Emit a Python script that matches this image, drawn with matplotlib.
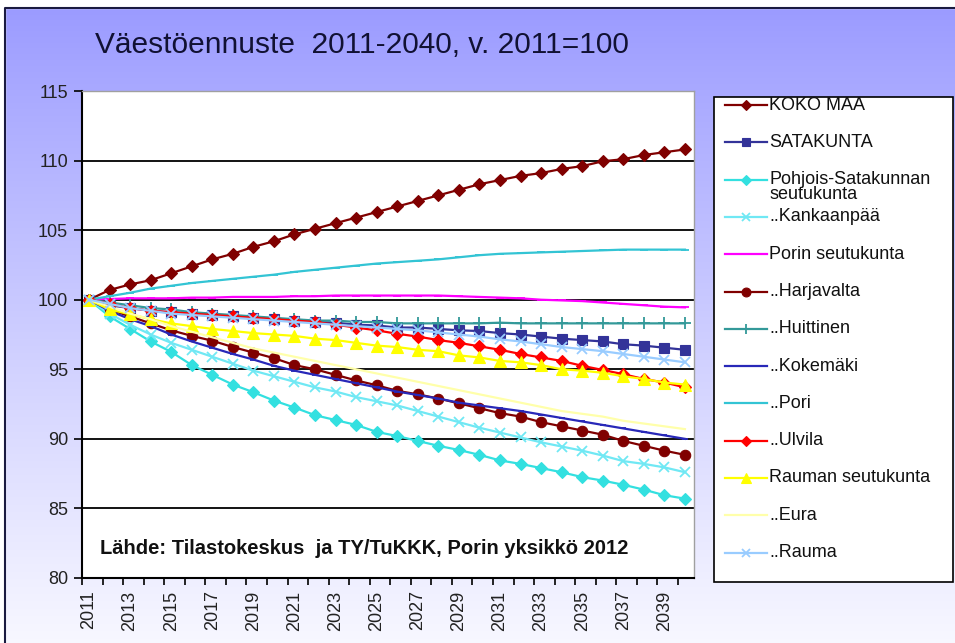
import matplotlib

matplotlib.use("Agg")

import matplotlib.pyplot as plt
import numpy as np
from matplotlib.lines import Line2D
from matplotlib.patches import Rectangle

plt.rcParams["font.family"] = ["Liberation Sans", "DejaVu Sans"]

years = list(range(2011, 2041))

koko_maa = [100, 100.7, 101.1, 101.4, 101.9, 102.4, 102.9, 103.3, 103.8, 104.2,
            104.7, 105.1, 105.5, 105.9, 106.3, 106.7, 107.1, 107.5, 107.9, 108.3,
            108.6, 108.9, 109.1, 109.4, 109.6, 109.95, 110.1, 110.4, 110.6, 110.8]
satakunta = [100, 99.6, 99.4, 99.2, 99.1, 99.0, 98.9, 98.8, 98.7, 98.6,
             98.5, 98.4, 98.35, 98.2, 98.15, 98.0, 98.0, 97.9, 97.8, 97.75,
             97.6, 97.5, 97.35, 97.2, 97.1, 97.0, 96.8, 96.7, 96.55, 96.4]
pohjois = [100, 98.8, 97.9, 97.0, 96.25, 95.3, 94.6, 93.9, 93.35, 92.75,
           92.25, 91.7, 91.35, 91.0, 90.5, 90.2, 89.85, 89.5, 89.2, 88.85,
           88.45, 88.2, 87.9, 87.6, 87.25, 87.0, 86.7, 86.35, 85.95, 85.7]
kankaanpaa = [100, 99.0, 98.2, 97.5, 96.9, 96.4, 95.9, 95.4, 94.9, 94.5,
              94.1, 93.7, 93.4, 93.0, 92.7, 92.4, 92.0, 91.6, 91.2, 90.8,
              90.45, 90.1, 89.75, 89.45, 89.15, 88.8, 88.4, 88.2, 87.95, 87.6]
porin_seutu = [100, 100.05, 100.1, 100.1, 100.1, 100.15, 100.15, 100.2, 100.2, 100.2,
               100.25, 100.25, 100.3, 100.3, 100.3, 100.3, 100.3, 100.3, 100.25, 100.2,
               100.15, 100.1, 100.0, 99.95, 99.9, 99.8, 99.7, 99.6, 99.5, 99.45]
harjavalta = [100, 99.3, 98.8, 98.3, 97.8, 97.4, 97.05, 96.6, 96.2, 95.8,
              95.3, 95.0, 94.6, 94.2, 93.85, 93.45, 93.2, 92.9, 92.55, 92.2,
              91.85, 91.6, 91.2, 90.9, 90.6, 90.3, 89.85, 89.5, 89.15, 88.85]
huittinen = [100, 99.8, 99.6, 99.4, 99.3, 99.1, 99.0, 98.9, 98.8, 98.7,
             98.6, 98.5, 98.5, 98.4, 98.4, 98.3, 98.3, 98.3, 98.3, 98.3,
             98.35, 98.3, 98.3, 98.3, 98.3, 98.3, 98.3, 98.3, 98.3, 98.3]
kokemaki = [100, 99.2, 98.6, 98.1, 97.5, 97.0, 96.55, 96.1, 95.7, 95.25,
            94.9, 94.6, 94.3, 94.0, 93.7, 93.4, 93.15, 92.9, 92.6, 92.4,
            92.2, 92.0, 91.75, 91.5, 91.25, 91.0, 90.75, 90.5, 90.25, 90.0]
pori = [100, 100.25, 100.5, 100.8, 101.0, 101.2, 101.35, 101.5, 101.65, 101.8,
        102.0, 102.15, 102.3, 102.45, 102.6, 102.7, 102.8, 102.9, 103.05, 103.2,
        103.3, 103.35, 103.4, 103.45, 103.5, 103.55, 103.6, 103.6, 103.6, 103.6]
ulvila = [100, 99.7, 99.4, 99.2, 99.1, 99.0, 98.9, 98.8, 98.7, 98.6,
          98.5, 98.4, 98.2, 98.0, 97.8, 97.55, 97.35, 97.1, 96.9, 96.65,
          96.4, 96.1, 95.85, 95.6, 95.25, 94.95, 94.65, 94.3, 94.05, 93.7]
rauman_seutu = [100, 99.3, 98.95, 98.6, 98.3, 98.1, 97.9, 97.75, 97.6, 97.5,
                97.4, 97.2, 97.1, 96.9, 96.7, 96.6, 96.4, 96.3, 96.0, 95.85,
                95.6, 95.5, 95.3, 95.0, 94.9, 94.75, 94.5, 94.3, 94.05, 93.9]
eura = [100, 99.5, 99.0, 98.6, 98.1, 97.7, 97.3, 96.9, 96.5, 96.2,
        95.9, 95.6, 95.3, 95.0, 94.7, 94.4, 94.1, 93.8, 93.5, 93.2,
        92.9, 92.6, 92.3, 92.0, 91.8, 91.6, 91.3, 91.1, 90.9, 90.7]
rauma = [100, 99.7, 99.4, 99.2, 99.0, 98.9, 98.8, 98.7, 98.6, 98.5,
         98.4, 98.3, 98.2, 98.1, 98.0, 97.9, 97.8, 97.65, 97.5, 97.35,
         97.15, 97.0, 96.8, 96.6, 96.45, 96.3, 96.1, 95.9, 95.7, 95.5]

# name, values, colour, marker, marker size
series = [
    ("KOKO MAA", koko_maa, "#800000", "D", 6.5),
    ("SATAKUNTA", satakunta, "#333399", "s", 7),
    ("Pohjois-Satakunnan\nseutukunta", pohjois, "#33e0e0", "D", 6),
    ("..Kankaanpää", kankaanpaa, "#70e8f4", "x", 7),
    ("Porin seutukunta", porin_seutu, "#ff00ff", "_", 6),
    ("..Harjavalta", harjavalta, "#800000", "o", 7.5),
    ("..Huittinen", huittinen, "#339999", "+", 9),
    ("..Kokemäki", kokemaki, "#2828b8", "_", 5),
    ("..Pori", pori, "#33c4d4", "_", 6),
    ("..Ulvila", ulvila, "#ff0000", "D", 6),
    ("Rauman seutukunta", rauman_seutu, "#ffff00", "^", 8),
    ("..Eura", eura, "#ffffaa", "", 0),
    ("..Rauma", rauma, "#99ccff", "x", 7),
]

W, H = 955, 643
fig = plt.figure(figsize=(W / 100, H / 100), dpi=100)

# lavender background fading down
bg = fig.add_axes([0, 0, 1, 1], zorder=-10)
t = np.linspace(0, 1, 256)[:, None] * np.ones((1, 2))
top = np.array([0.60, 0.60, 1.0])
bottom = np.array([0.97, 0.97, 1.0])
grad = top + (bottom - top) * (t[..., None] ** 0.9)
bg.imshow(grad, extent=[0, 1, 0, 1], aspect="auto", origin="upper")
bg.set_xlim(0, 1)
bg.set_ylim(0, 1)
bg.axis("off")
bg.add_patch(Rectangle((0, 1 - 8 / H), 1, 8 / H, color="white", zorder=2))
bg.add_patch(Rectangle((0, 0), 5 / W, 1, color="white", zorder=2))
bg.plot([5 / W, 5 / W, 1], [0, 1 - 8 / H, 1 - 8 / H], color="#1a1a40", lw=1.5, zorder=3)

ax = fig.add_axes([82 / W, 1 - 578 / H, (694 - 82) / W, (578 - 91) / H])
ax.set_facecolor("white")

for name, values, color, marker, size in series:
    ax.plot(years, values, color=color, linewidth=1.6, marker=marker or None,
            markersize=size, markeredgewidth=1.3 if marker in ("x", "+", "_") else 0.8,
            markeredgecolor=color, clip_on=False)

ax.set_ylim(80, 115)
ax.set_yticks(range(80, 116, 5))
ax.set_xlim(2010.66, 2040.44)
ax.set_xticks(years[::2])
ax.set_xticks([y - 0.34 for y in years], minor=True)
ax.tick_params(axis="x", which="major", length=0, pad=9, labelrotation=90,
               labelsize=13, labelcolor="#222222")
ax.tick_params(axis="x", which="minor", length=5, width=1.2, direction="out")
ax.tick_params(axis="y", length=6, width=1.2, direction="out", labelsize=13,
               pad=4, labelcolor="#222222")
ax.grid(True, axis="y", color="black", linewidth=1.3)
for side in ("top", "right"):
    ax.spines[side].set_color("#a0a0a0")
    ax.spines[side].set_linewidth(1)
for side in ("left", "bottom"):
    ax.spines[side].set_color("black")
    ax.spines[side].set_linewidth(1.5)
ax.set_axisbelow(True)

fig.text(95 / W, 1 - 45 / H, "Väestöennuste  2011-2040, v. 2011=100",
         fontsize=21.5, va="center", ha="left", color="#111133")
fig.text(100 / W, 1 - 549 / H, "Lähde: Tilastokeskus  ja TY/TuKKK, Porin yksikkö 2012",
         fontsize=14.5, fontweight="bold", va="center", ha="left", color="#111111")

# legend box drawn by hand
lx0, ly0, lx1, ly1 = 714, 97, 953, 582
box = Rectangle((lx0 / W, 1 - ly1 / H), (lx1 - lx0) / W, (ly1 - ly0) / H,
                transform=fig.transFigure, facecolor="white", edgecolor="black",
                linewidth=1.2, zorder=5)
fig.add_artist(box)
for i, (name, values, color, marker, size) in enumerate(series):
    yc = 1 - (105 + 37.3 * i) / H
    line = Line2D([725 / W, 767 / W], [yc, yc], transform=fig.transFigure,
                  color=color, linewidth=1.6, zorder=6)
    fig.add_artist(line)
    if marker:
        mk = Line2D([746 / W], [yc], transform=fig.transFigure, color=color,
                    marker=marker, markersize=size * 0.85, linestyle="none",
                    markeredgecolor=color,
                    markeredgewidth=1.3 if marker in ("x", "+", "_") else 0.8,
                    zorder=7)
        fig.add_artist(mk)
    va = "center"
    ypos = yc
    if "\n" in name:
        va = "top"
        ypos = yc + 9 / H
    txt = fig.text(769 / W, ypos, name, fontsize=13, va=va, ha="left",
                   color="#111111", zorder=8, linespacing=0.9)
    txt.set_clip_path(box)

fig.savefig("out.png", dpi=100)
